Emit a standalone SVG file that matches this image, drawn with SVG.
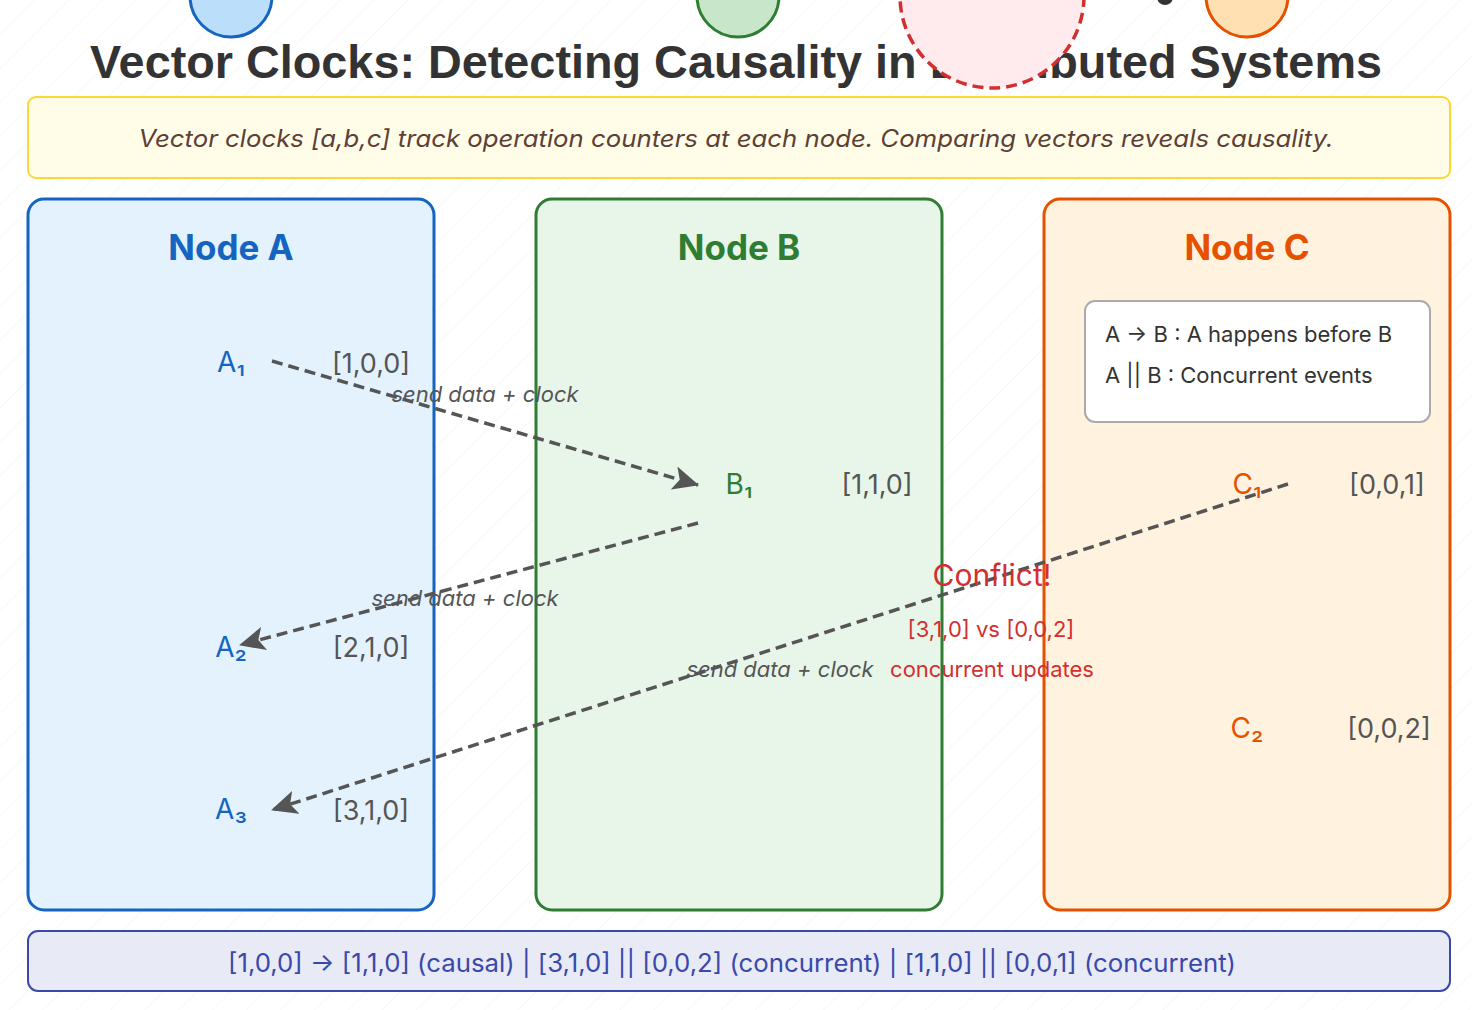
<svg xmlns="http://www.w3.org/2000/svg" width="1472" height="1010" viewBox="0 0 1472 1010">
<defs>
<pattern id="hatch" width="24" height="24" patternUnits="userSpaceOnUse" patternTransform="rotate(45)">
<line x1="0" y1="0" x2="0" y2="24" stroke="#f2f2f2" stroke-width="1"/>
</pattern>
<marker id="arr" viewBox="0 0 26 24" refX="25" refY="12" markerWidth="26" markerHeight="24" markerUnits="userSpaceOnUse" orient="auto">
<path d="M0,0 L26,12 L0,24 L6,12 Z" fill="#555"/>
</marker>
<style>
.t{font-family:Inter,"Liberation Sans",sans-serif}
.title{font-family:"Liberation Sans",Arial,sans-serif;font-weight:bold;font-size:47px;fill:#333}
.node{stroke-width:3}
.nt{font-family:Inter,"Liberation Sans",sans-serif;font-weight:bold;font-size:35px}
.ev{font-family:Inter,"Liberation Sans",sans-serif;font-size:28px}
.vc{font-family:Inter,"Liberation Sans",sans-serif;font-size:27px;fill:#555}
.msg{fill:none;stroke:#555;stroke-width:3.5;stroke-dasharray:11,6}
.ml{font-family:Inter,"Liberation Sans",sans-serif;font-style:italic;font-size:22px;fill:#555}
.red{fill:#d32f2f}
</style>
</defs>
<rect width="1472" height="1010" fill="#fff"/>
<rect width="1472" height="1010" fill="url(#hatch)"/>

<g id="top-circles">
<circle cx="231" cy="-4" r="41" fill="#bbdefb" stroke="#1565c0" stroke-width="3"/>
<circle cx="738" cy="-4" r="41" fill="#c8e6c9" stroke="#2e7d32" stroke-width="3"/>
<circle cx="1165" cy="-3" r="8" fill="#333"/>
<circle cx="1247" cy="-4" r="41" fill="#ffe0b2" stroke="#e65100" stroke-width="3"/>
</g>

<text class="title" x="736" y="78" text-anchor="middle" textLength="1292" lengthAdjust="spacingAndGlyphs">Vector Clocks: Detecting Causality in Distributed Systems</text>

<g id="conflict-circle">
<circle cx="992" cy="-4" r="92" fill="#ffebee" stroke="#d32f2f" stroke-width="3.5" stroke-dasharray="11,6"/>
</g>

<g id="description">
<rect x="28" y="97" width="1422" height="81" rx="8" fill="#fffde7" stroke="#fdd835" stroke-width="2"/>
<text class="t" x="736" y="147" text-anchor="middle" font-size="24" font-style="italic" fill="#5d4037" textLength="1195" lengthAdjust="spacingAndGlyphs">Vector clocks [a,b,c] track operation counters at each node. Comparing vectors reveals causality.</text>
</g>

<g id="nodeA">
<rect class="node" x="28" y="199" width="406" height="711" rx="16" fill="#e3f2fd" stroke="#1565c0"/>
<text class="nt" x="231" y="260" text-anchor="middle" fill="#1565c0">Node A</text>
</g>
<g id="nodeB">
<rect class="node" x="536" y="199" width="406" height="711" rx="16" fill="#e8f5e9" stroke="#2e7d32"/>
<text class="nt" x="739" y="260" text-anchor="middle" fill="#2e7d32">Node B</text>
</g>
<g id="nodeC">
<rect class="node" x="1044" y="199" width="406" height="711" rx="16" fill="#fff3e0" stroke="#e65100"/>
<text class="nt" x="1247" y="260" text-anchor="middle" fill="#e65100">Node C</text>
</g>

<g id="legend">
<rect x="1085" y="301" width="345" height="121" rx="10" fill="#fff" stroke="#aaa" stroke-width="2"/>
<text class="t" x="1105" y="342" font-size="22" fill="#333">A → B : A happens before B</text>
<text class="t" x="1105" y="383" font-size="22" fill="#333">A || B : Concurrent events</text>
</g>

<g id="eventA1"><text class="ev" x="231" y="372" text-anchor="middle" fill="#1565c0">A₁</text><text class="vc" x="371" y="373" text-anchor="middle">[1,0,0]</text></g>
<g id="eventA2"><text class="ev" x="231" y="657" text-anchor="middle" fill="#1565c0">A₂</text><text class="vc" x="371" y="657" text-anchor="middle">[2,1,0]</text></g>
<g id="eventA3"><text class="ev" x="231" y="819" text-anchor="middle" fill="#1565c0">A₃</text><text class="vc" x="371" y="820" text-anchor="middle">[3,1,0]</text></g>
<g id="eventB1"><text class="ev" x="739" y="494" text-anchor="middle" fill="#2e7d32">B₁</text><text class="vc" x="877" y="494" text-anchor="middle">[1,1,0]</text></g>
<g id="eventC1"><text class="ev" x="1247" y="494" text-anchor="middle" fill="#e65100">C₁</text><text class="vc" x="1387" y="494" text-anchor="middle">[0,0,1]</text></g>
<g id="eventC2"><text class="ev" x="1247" y="738" text-anchor="middle" fill="#e65100">C₂</text><text class="vc" x="1389" y="738" text-anchor="middle">[0,0,2]</text></g>

<g id="connectors">
<line class="msg" x1="272" y1="361" x2="698" y2="485" marker-end="url(#arr)"/>
<line class="msg" x1="698" y1="523" x2="240" y2="645" marker-end="url(#arr)"/>
<line class="msg" x1="1288" y1="484" x2="272" y2="810" marker-end="url(#arr)"/>
<text class="ml" x="485" y="402" text-anchor="middle">send data + clock</text>
<text class="ml" x="465" y="606" text-anchor="middle">send data + clock</text>
<text class="ml" x="780" y="677" text-anchor="middle">send data + clock</text>
</g>

<g id="conflict">
<text class="t red" x="992" y="586" text-anchor="middle" font-size="30">Conflict!</text>
<text class="t red" x="991" y="637" text-anchor="middle" font-size="22">[3,1,0] vs [0,0,2]</text>
<text class="t red" x="992" y="677" text-anchor="middle" font-size="22">concurrent updates</text>
</g>

<g id="summary">
<rect x="28" y="931" width="1422" height="60" rx="10" fill="#e8eaf6" stroke="#3949ab" stroke-width="2"/>
<text class="t" x="732" y="972" text-anchor="middle" font-size="25" fill="#3949ab" textLength="1008" lengthAdjust="spacingAndGlyphs">[1,0,0] → [1,1,0] (causal) | [3,1,0] || [0,0,2] (concurrent) | [1,1,0] || [0,0,1] (concurrent)</text>
</g>
</svg>
